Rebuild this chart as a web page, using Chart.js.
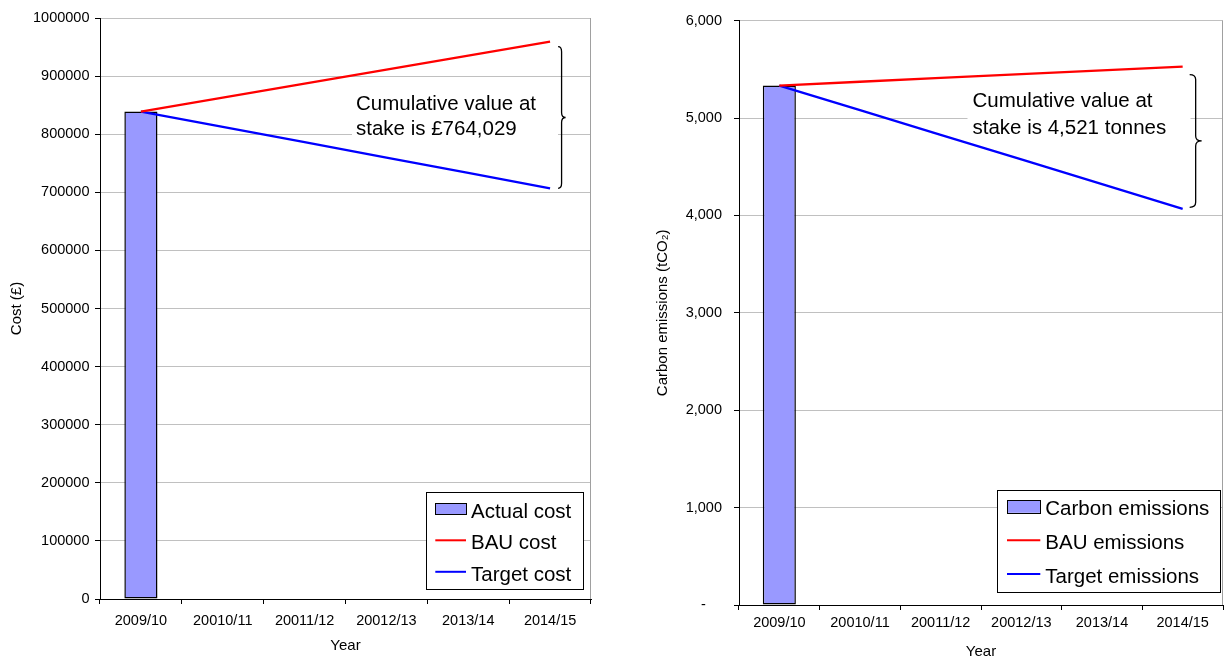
<!DOCTYPE html>
<html>
<head>
<meta charset="utf-8">
<script src="https://cdn.jsdelivr.net/npm/chart.js@4.4.1/dist/chart.umd.min.js"></script>
<style>
  html, body { margin: 0; padding: 0; background: #fff; }
  body { width: 1225px; height: 659px; position: relative; overflow: hidden; }
  canvas { position: absolute; top: 0; }
  #costChart { left: 0; }
  #carbonChart { left: 612px; }
</style>
</head>
<body>
<canvas id="costChart" width="612" height="659"></canvas>
<canvas id="carbonChart" width="613" height="659"></canvas>
<script>
// Financial years shown on both charts
const years = ['2009/10', '20010/11', '20011/12', '20012/13', '2013/14', '2014/15'];

// Cost (£)
const actualCost = [839000, null, null, null, null, null];
const bauCost    = [839000, 863000, 887100, 911100, 935200, 959200];
const targetCost = [839000, 812600, 786200, 759700, 733300, 706900];
const costAxis = { min: 0, max: 1000000, step: 100000 };
const costNote = ['Cumulative value at', 'stake is £764,029'];

// Carbon emissions (tCO2)
const actualCarbon = [5334, null, null, null, null, null];
const bauCarbon    = [5334, 5373, 5412, 5451, 5490, 5529];
const targetCarbon = [5334, 5081, 4828, 4575, 4322, 4068];
const carbonAxis = { min: 0, max: 6000, step: 1000 };
const carbonNote = ['Cumulative value at', 'stake is 4,521 tonnes'];

const FONT = "'Liberation Sans', Arial, Helvetica, sans-serif";
Chart.defaults.font.family = FONT;
Chart.defaults.color = '#000';

// Gray edge on the right side of the plot area
const frameEdge = {
  id: 'frameEdge',
  beforeDatasetsDraw(chart) {
    const { ctx, chartArea: a } = chart;
    const x = Math.round(a.right) - 0.5;
    ctx.save();
    ctx.strokeStyle = '#a0a0a0';
    ctx.lineWidth = 1;
    ctx.beginPath();
    ctx.moveTo(x, a.top);
    ctx.lineTo(x, a.bottom);
    ctx.stroke();
    ctx.restore();
  }
};

// Text box with the value-at-stake note and the brace joining both line ends
const stakeNote = {
  id: 'stakeNote',
  beforeDatasetsDraw(chart, args, o) {
    const { ctx, chartArea: a, scales: { x, y } } = chart;
    ctx.save();
    ctx.fillStyle = '#fff';
    ctx.fillRect(a.left + o.box[0], a.top + o.box[1], o.box[2], o.box[3]);
    ctx.fillStyle = '#000';
    ctx.font = o.font;
    ctx.textAlign = 'left';
    ctx.textBaseline = 'alphabetic';
    o.lines.forEach((t, i) => ctx.fillText(t, a.left + o.textX, a.top + o.textY + i * o.lineGap));

    const last = chart.data.labels.length - 1;
    const xp = x.getPixelForValue(last);
    const top = y.getPixelForValue(chart.data.datasets[1].data[last]) + o.topInset;
    const bottom = y.getPixelForValue(chart.data.datasets[2].data[last]) + o.bottomInset;
    const x0 = xp + o.braceGap;
    const xm = x0 + o.braceMid;
    const xt = x0 + o.braceWidth;
    const mid = (top + bottom) / 2;
    const r = 5;
    ctx.strokeStyle = '#000';
    ctx.lineWidth = 1.3;
    ctx.beginPath();
    ctx.moveTo(x0, top);
    ctx.quadraticCurveTo(xm, top, xm, top + r);
    ctx.lineTo(xm, mid - r);
    ctx.quadraticCurveTo(xm, mid, xt, mid);
    ctx.quadraticCurveTo(xm, mid, xm, mid + r);
    ctx.lineTo(xm, bottom - r);
    ctx.quadraticCurveTo(xm, bottom, x0, bottom);
    ctx.stroke();
    ctx.restore();
  }
};

// Boxed legend placed inside the lower right of the plot area
const boxLegend = {
  id: 'boxLegend',
  afterDatasetsDraw(chart, args, o) {
    const { ctx, chartArea: a } = chart;
    const bx = Math.round(a.right - o.right - o.width);
    const by = Math.round(a.bottom - o.bottom - o.height);
    ctx.save();
    ctx.fillStyle = '#fff';
    ctx.fillRect(bx, by, o.width, o.height);
    ctx.strokeStyle = '#000';
    ctx.lineWidth = 1;
    ctx.strokeRect(bx + 0.5, by + 0.5, Math.round(o.width), Math.round(o.height));
    ctx.font = o.font;
    ctx.textAlign = 'left';
    ctx.textBaseline = 'alphabetic';
    chart.data.datasets.forEach((ds, i) => {
      const cy = by + o.firstRow + i * o.rowGap;
      const sx = bx + o.swatchX;
      if (ds.type === 'bar') {
        ctx.fillStyle = ds.backgroundColor;
        ctx.fillRect(sx, cy - 1.5 - o.swatchH / 2, o.swatchW, o.swatchH);
        ctx.strokeStyle = ds.borderColor;
        ctx.lineWidth = 1;
        ctx.strokeRect(Math.round(sx) + 0.5, Math.round(cy - 1.5 - o.swatchH / 2) + 0.5, Math.round(o.swatchW), Math.round(o.swatchH));
      } else {
        ctx.strokeStyle = ds.borderColor;
        ctx.lineWidth = 2;
        ctx.beginPath();
        ctx.moveTo(sx, cy - 1.5);
        ctx.lineTo(sx + o.swatchW, cy - 1.5);
        ctx.stroke();
      }
      ctx.fillStyle = '#000';
      ctx.fillText(ds.label, bx + o.textX, cy + o.fontSize * 0.358);
    });
    ctx.restore();
  }
};

function makeChart(id, cfg) {
  return new Chart(document.getElementById(id), {
    data: {
      labels: years,
      datasets: [
        { type: 'bar', label: cfg.names[0], data: cfg.actual, backgroundColor: '#9999FF',
          borderColor: '#000', borderWidth: 1.5, borderSkipped: false,
          categoryPercentage: 1, barPercentage: cfg.barFrac, order: 3 },
        { type: 'line', label: cfg.names[1], data: cfg.bau, borderColor: '#FF0000',
          borderWidth: 2.3, pointRadius: 0, tension: 0, spanGaps: true, order: 1 },
        { type: 'line', label: cfg.names[2], data: cfg.target, borderColor: '#0000FF',
          borderWidth: 2.3, pointRadius: 0, tension: 0, spanGaps: true, order: 2 }
      ]
    },
    options: {
      responsive: false,
      animation: false,
      events: [],
      layout: { padding: cfg.padding },
      plugins: {
        legend: { display: false },
        tooltip: { enabled: false },
        frameEdge: {},
        stakeNote: cfg.note,
        boxLegend: cfg.legend
      },
      scales: {
        x: {
          type: 'category',
          offset: true,
          grid: { display: true, drawOnChartArea: false, drawTicks: true, tickLength: 5,
                  color: '#000', offset: true },
          border: { display: true, color: '#000', width: 1 },
          ticks: { font: { size: 14.5, lineHeight: 1 }, color: '#000', padding: cfg.xTickPad,
                   maxRotation: 0, autoSkip: false },
          title: { display: true, text: 'Year', font: { size: 15, lineHeight: 1 }, color: '#000',
                   padding: { top: 0, bottom: cfg.xTitlePad } },
          afterFit: s => { s.height = cfg.xHeight; }
        },
        y: {
          min: cfg.axis.min, max: cfg.axis.max,
          grid: { color: '#c0c0c0', tickColor: '#000', tickLength: 5, lineWidth: 1 },
          border: { display: true, color: '#000', width: 1 },
          ticks: { stepSize: cfg.axis.step, font: { size: 14.5 }, color: '#000',
                   padding: cfg.yTickPad, callback: cfg.fmt },
          title: { display: true, text: cfg.yTitle, font: { size: 15, lineHeight: 1 }, color: '#000',
                   padding: { top: cfg.yTitlePad, bottom: 0 } },
          afterFit: s => { s.width = cfg.yWidth; }
        }
      }
    },
    plugins: [frameEdge, stakeNote, boxLegend]
  });
}

makeChart('costChart', {
  names: ['Actual cost', 'BAU cost', 'Target cost'],
  actual: actualCost, bau: bauCost, target: targetCost,
  axis: costAxis, barFrac: 0.405,
  padding: { top: 18, right: 21, bottom: 0, left: 0 },
  xHeight: 60, yWidth: 100, xTickPad: 10, xTitlePad: 6, yTickPad: 5.5, yTitlePad: 9.5,
  yTitle: 'Cost (£)',
  fmt: v => String(v),
  note: { lines: costNote, font: '20.5px ' + FONT, textX: 256, textY: 92, lineGap: 25,
          box: [252, 59, 206, 74], braceGap: 8, braceMid: 3.5, braceWidth: 7.5,
          topInset: 5, bottomInset: 0 },
  legend: { right: 8.3, bottom: 10.7, width: 157, height: 96.6, firstRow: 18.3, rowGap: 31.5,
            swatchX: 9.3, swatchW: 30.7, swatchH: 11.3, textX: 45, font: '20.5px ' + FONT, fontSize: 20.5 }
});

makeChart('carbonChart', {
  names: ['Carbon emissions', 'BAU emissions', 'Target emissions'],
  actual: actualCarbon, bau: bauCarbon, target: targetCarbon,
  axis: carbonAxis, barFrac: 0.41,
  padding: { top: 19, right: 2, bottom: 0, left: 0 },
  xHeight: 54, yWidth: 127, xTickPad: 5.5, xTitlePad: 0, yTickPad: 12, yTitlePad: 43.5,
  yTitle: 'Carbon emissions (tCO₂)',
  fmt: v => (v === 0 ? '-    ' : v.toLocaleString('en-US')),
  note: { lines: carbonNote, font: '20.5px ' + FONT, textX: 233.5, textY: 86, lineGap: 27,
          box: [228.5, 66, 223, 65], braceGap: 7, braceMid: 6, braceWidth: 12,
          topInset: 8, bottomInset: -1.5 },
  legend: { right: 3, bottom: 12.7, width: 223.3, height: 102.3, firstRow: 18, rowGap: 33.8,
            swatchX: 10, swatchW: 33.3, swatchH: 12.6, textX: 48.3, font: '20.5px ' + FONT, fontSize: 20.5 }
});
</script>
</body>
</html>
